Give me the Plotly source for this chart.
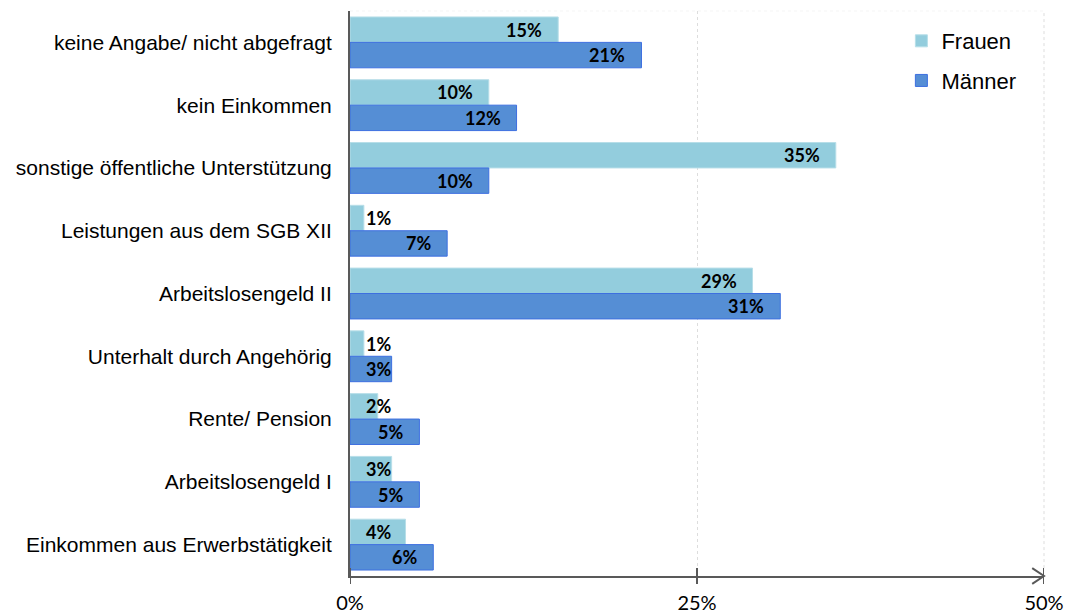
import plotly.graph_objects as go

# Einkommensquellen nach Geschlecht (Anteile in %)
categories = [
    "keine Angabe/ nicht abgefragt",
    "kein Einkommen",
    "sonstige öffentliche Unterstützung",
    "Leistungen aus dem SGB XII",
    "Arbeitslosengeld II",
    "Unterhalt durch Angehörig",
    "Rente/ Pension",
    "Arbeitslosengeld I",
    "Einkommen aus Erwerbstätigkeit",
]
frauen = [15, 10, 35, 1, 29, 1, 2, 3, 4]
maenner = [21, 12, 10, 7, 31, 3, 5, 5, 6]

x_ticks = [0, 25, 50]
x_ticktext = ["0%", "25%", "50%"]

FRAUEN_FILL = "#93CDDD"
FRAUEN_EDGE = "#B7DEE8"
MAENNER_FILL = "#558ED5"
MAENNER_EDGE = "#3D6FE0"
AXIS_COLOR = "#595959"
GRID_COLOR = "#DDDDDD"

fig = go.Figure()
fig.add_trace(go.Bar(
    name="Frauen", y=categories, x=frauen, orientation="h",
    marker=dict(color=FRAUEN_FILL, line=dict(color=FRAUEN_EDGE, width=1)),
    legendgroup="f", hoverinfo="x+y",
))
fig.add_trace(go.Bar(
    name="Männer", y=categories, x=maenner, orientation="h",
    marker=dict(color=MAENNER_FILL, line=dict(color=MAENNER_EDGE, width=1)),
    legendgroup="m", hoverinfo="x+y",
))

# Wertbeschriftungen: rechtsbündig innen am Balkenende, bei kurzen Balken links an der Achse
label_font = dict(family="Lato, Open Sans, sans-serif", size=18, color="#000000")
annotations = []
for series, shift in ((frauen, 12.7), (maenner, -12.7)):
    for cat, v in zip(categories, series):
        if v <= 4:
            ax, anchor, xs = 0, "left", 14
        else:
            ax, anchor, xs = v, "right", -14
        annotations.append(dict(
            x=ax, y=cat, xref="x", yref="y", text=f"<b>{v}%</b>",
            showarrow=False, xanchor=anchor, yanchor="middle",
            xshift=xs, yshift=shift, font=label_font,
        ))

# Achsenstriche, die die x-Achse kreuzen, und Pfeilspitze am Achsenende
shapes = []
for t in x_ticks:
    shapes.append(dict(type="line", xref="x", yref="paper", x0=t, x1=t,
                       y0=-0.014, y1=0.014, line=dict(color=AXIS_COLOR, width=2)))
shapes.append(dict(type="path", xref="paper", yref="paper",
                   path="M 0.983,0.014 L 1,0 L 0.983,-0.014",
                   line=dict(color=AXIS_COLOR, width=2)))
# Gitterlinie am rechten Rand und feine obere Begrenzung der Zeichenfläche
shapes.append(dict(type="line", xref="paper", yref="paper", x0=1, x1=1, y0=0.014, y1=1,
                   line=dict(color=GRID_COLOR, width=1, dash="dot"), layer="below"))
shapes.append(dict(type="line", xref="paper", yref="paper", x0=0, x1=1, y0=1, y1=1,
                   line=dict(color="#F5F5F5", width=1, dash="dot"), layer="below"))

fig.update_layout(
    width=1073, height=616,
    margin=dict(l=350, r=29, t=11, b=40),
    paper_bgcolor="white", plot_bgcolor="white",
    barmode="group", bargap=0.19, bargroupgap=0,
    font=dict(family="Liberation Sans, Arial, sans-serif", color="#000000"),
    showlegend=True,
    legend=dict(
        x=0.7945, y=0.984, xanchor="left", yanchor="top",
        font=dict(family="Liberation Sans, Arial, sans-serif", size=22, color="#000000"),
        traceorder="grouped", tracegroupgap=8,
        bgcolor="rgba(0,0,0,0)",
    ),
    xaxis=dict(
        range=[0, 50], tickvals=x_ticks, ticktext=x_ticktext,
        showgrid=True, gridcolor=GRID_COLOR, griddash="dot", gridwidth=1,
        zeroline=False, showline=True, linecolor=AXIS_COLOR, linewidth=2,
        ticks="", ticklabelstandoff=8, automargin=False,
        tickfont=dict(family="Lato, Open Sans, sans-serif", size=20, color="#000000"),
        fixedrange=True,
    ),
    yaxis=dict(
        autorange="reversed", showgrid=False, zeroline=False,
        showline=True, linecolor=AXIS_COLOR, linewidth=2,
        ticks="", ticklabelstandoff=12, automargin=False,
        tickfont=dict(family="Liberation Sans, Arial, sans-serif", size=21, color="#000000"),
        fixedrange=True,
    ),
    annotations=annotations,
    shapes=shapes,
)

fig.write_html("out.html")
